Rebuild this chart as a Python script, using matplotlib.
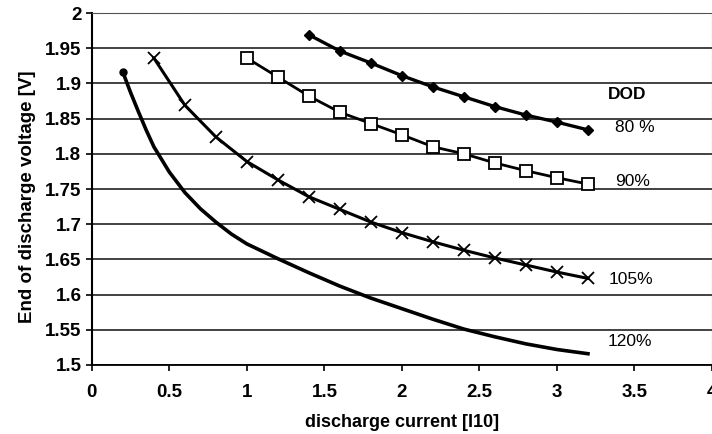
import numpy as np
import matplotlib.pyplot as plt

plt.rcParams['font.family'] = ['Liberation Sans', 'DejaVu Sans']

# discharge current [I10] and end-of-discharge voltage per DOD curve
x_80 = [1.4, 1.6, 1.8, 2.0, 2.2, 2.4, 2.6, 2.8, 3.0, 3.2]
v_80 = [1.969, 1.946, 1.929, 1.911, 1.895, 1.881, 1.867, 1.855, 1.845, 1.834]

x_90 = [1.0, 1.2, 1.4, 1.6, 1.8, 2.0, 2.2, 2.4, 2.6, 2.8, 3.0, 3.2]
v_90 = [1.936, 1.909, 1.882, 1.859, 1.843, 1.827, 1.810, 1.800, 1.787, 1.776, 1.766, 1.757]

x_105 = [0.4, 0.6, 0.8, 1.0, 1.2, 1.4, 1.6, 1.8, 2.0, 2.2, 2.4, 2.6, 2.8, 3.0, 3.2]
v_105 = [1.936, 1.869, 1.824, 1.789, 1.763, 1.739, 1.721, 1.703, 1.688, 1.675,
         1.663, 1.652, 1.642, 1.632, 1.623]

x_120 = [0.2, 0.25, 0.3, 0.35, 0.4, 0.5, 0.6, 0.7, 0.8, 0.9, 1.0, 1.2, 1.4,
         1.6, 1.8, 2.0, 2.2, 2.4, 2.6, 2.8, 3.0, 3.2]
v_120 = [1.916, 1.887, 1.860, 1.834, 1.810, 1.774, 1.745, 1.722, 1.703, 1.686,
         1.672, 1.651, 1.631, 1.612, 1.595, 1.580, 1.565, 1.551, 1.540, 1.530,
         1.522, 1.516]

labels = ['DOD', '80 %', '90%', '105%', '120%']
label_x = [3.45, 3.50, 3.49, 3.48, 3.47]
label_y = [1.884, 1.838, 1.760, 1.621, 1.533]

fig = plt.figure(figsize=(7.12, 4.34), dpi=100)
ax = fig.add_axes([0.129, 0.159, 0.871, 0.811])

ax.set_xlim(0, 4)
ax.set_ylim(1.5, 2.0)
ax.set_xticks(np.arange(0, 4.01, 0.5))
ax.set_xticklabels(['0', '0.5', '1', '1.5', '2', '2.5', '3', '3.5', '4'])
ax.set_yticks(np.arange(1.5, 2.001, 0.05))
ax.set_yticklabels(['1.5', '1.55', '1.6', '1.65', '1.7', '1.75', '1.8', '1.85',
                    '1.9', '1.95', '2'])

ax.grid(axis='y', color='#333333', linewidth=1.3)
ax.set_axisbelow(True)
for side in ['top', 'right']:
    ax.spines[side].set_linestyle((0, (4, 2)))
    ax.spines[side].set_color('#555555')
ax.spines['left'].set_linewidth(1.5)
ax.spines['bottom'].set_linewidth(1.3)
ax.tick_params(axis='both', labelsize=13.5, length=4, width=1.2, direction='out')
for t in ax.get_xticklabels() + ax.get_yticklabels():
    t.set_fontweight('bold')
ax.tick_params(axis='x', pad=10)

ax.plot(x_80, v_80, color='black', lw=2.4, marker='D', ms=5, mfc='black')
ax.plot(x_90, v_90, color='black', lw=2.0, marker='s', ms=8, mfc='white',
        mew=1.3)
ax.plot(x_105, v_105, color='black', lw=2.2, marker='x', ms=9, mew=1.3)
ax.plot(x_120, v_120, color='black', lw=2.6)
ax.plot(x_120[0], v_120[0], 'o', color='black', ms=5)

for lab, lx, ly in zip(labels, label_x, label_y):
    ax.text(lx, ly, lab, fontsize=12.5, ha='center', va='center',
            fontweight='bold' if lab == 'DOD' else 'normal')

ax.set_xlabel('discharge current [I10]', fontsize=13, fontweight='bold')
ax.set_ylabel('End of discharge voltage [V]', fontsize=13.5, fontweight='bold')
ax.xaxis.set_label_coords(0.5, -0.162)
ax.yaxis.set_label_coords(-0.103, 0.477)
ax.xaxis.label.set_va('center')
ax.yaxis.label.set_va('center')

fig.savefig('out.png', dpi=100)
